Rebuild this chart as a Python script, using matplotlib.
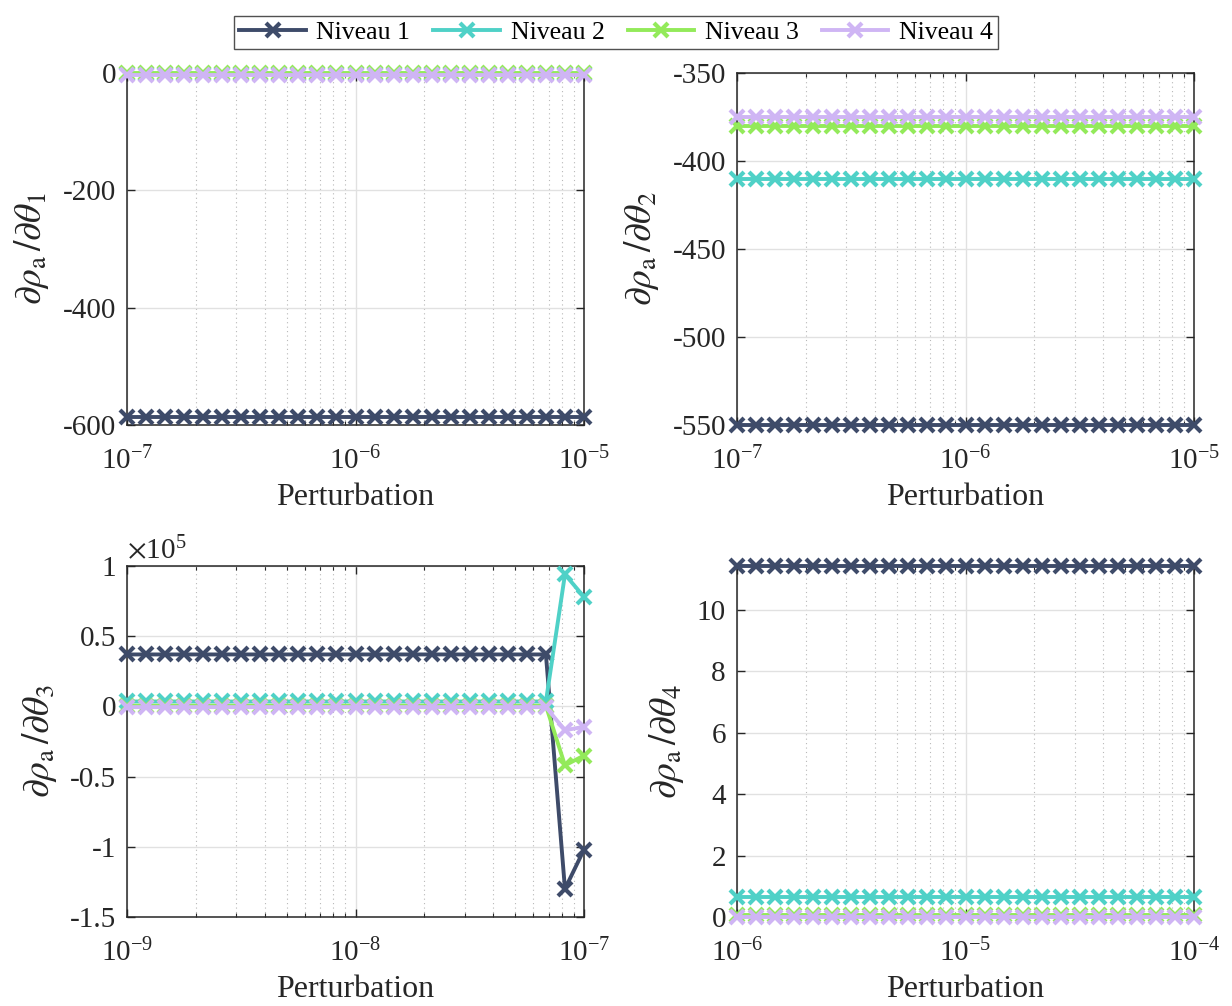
import numpy as np
import matplotlib
matplotlib.use("Agg")
import matplotlib.pyplot as plt
from matplotlib.ticker import FixedLocator, FuncFormatter, LogLocator, NullFormatter

plt.rcParams['font.family'] = ['Liberation Serif', 'DejaVu Serif']
plt.rcParams['mathtext.fontset'] = 'stix'
plt.rcParams['axes.unicode_minus'] = False

# series names and colours
levels = ["Niveau 1", "Niveau 2", "Niveau 3", "Niveau 4"]
colors = ["#3e4b69", "#4fd1c7", "#93ea5a", "#cfb5f4"]

N = 25
# perturbation grids (25 log-spaced steps per panel)
pert_1 = np.logspace(-7, -5, N)
pert_2 = np.logspace(-7, -5, N)
pert_3 = np.logspace(-9, -7, N)
pert_4 = np.logspace(-6, -4, N)

# d rho_a / d theta_1
d1_n1 = [-586] * N
d1_n2 = [-1] * N
d1_n3 = [0] * N
d1_n4 = [-3] * N

# d rho_a / d theta_2
d2_n1 = [-550] * N
d2_n2 = [-410] * N
d2_n3 = [-380] * N
d2_n4 = [-375] * N

# d rho_a / d theta_3 (unstable for the largest steps)
d3_n1 = [37000] * 23 + [-130000, -102000]
d3_n2 = [3500] * 23 + [94000, 78000]
d3_n3 = [500] * 23 + [-42000, -35000]
d3_n4 = [-500] * 23 + [-17000, -14500]

# d rho_a / d theta_4
d4_n1 = [11.43] * N
d4_n2 = [0.65] * N
d4_n3 = [0.06] * N
d4_n4 = [0.0] * N

FS = 21


def log_fmt(v, p):
    e = int(round(np.log10(v)))
    return r'$\mathregular{10^{%d}}$' % e


fig = plt.figure(figsize=(12.32, 10.06), dpi=100, facecolor='white')

pos = [
    [127 / 1232, 1 - 425 / 1006, 457 / 1232, 352 / 1006],
    [737 / 1232, 1 - 425 / 1006, 457 / 1232, 352 / 1006],
    [127 / 1232, 1 - 917 / 1006, 457 / 1232, 351 / 1006],
    [737 / 1232, 1 - 917 / 1006, 457 / 1232, 351 / 1006],
]

panels = [
    (pert_1, [d1_n1, d1_n2, d1_n3, d1_n4], (-600, 0), [-600, -400, -200, 0], r'$\partial\rho_\mathrm{a}\,/\partial\theta_1$'),
    (pert_2, [d2_n1, d2_n2, d2_n3, d2_n4], (-550, -350), [-550, -500, -450, -400, -350], r'$\partial\rho_\mathrm{a}\,/\partial\theta_2$'),
    (pert_3, [d3_n1, d3_n2, d3_n3, d3_n4], (-150000, 100000), [-150000, -100000, -50000, 0, 50000, 100000], r'$\partial\rho_\mathrm{a}\,/\partial\theta_3$'),
    (pert_4, [d4_n1, d4_n2, d4_n3, d4_n4], (0, 11.43), [0, 2, 4, 6, 8, 10], r'$\partial\rho_\mathrm{a}\,/\partial\theta_4$'),
]

handles = []
for i, (x, series, ylim, yticks, ylab) in enumerate(panels):
    ax = fig.add_axes(pos[i])
    for vals, name, col in zip(series, levels, colors):
        h, = ax.plot(x, vals, '-x', color=col, linewidth=2.8, markersize=10,
                     markeredgewidth=3.0, label=name, clip_on=False, zorder=3)
        if i == 0:
            handles.append(h)
    ax.set_xscale('log')
    ax.set_xlim(x[0], x[-1])
    ax.set_ylim(*ylim)
    ax.yaxis.set_major_locator(FixedLocator(yticks))
    if i == 2:
        ax.yaxis.set_major_formatter(FuncFormatter(lambda v, p: f'{v / 1e5:g}'))
        ax.text(0.0, 1.005, r'$\times\mathregular{10^5}$', transform=ax.transAxes,
                fontsize=FS, ha='left', va='bottom', color='#262626')
    else:
        ax.yaxis.set_major_formatter(FuncFormatter(lambda v, p: f'{v:g}'))
    ax.xaxis.set_major_locator(FixedLocator([x[0], x[12], x[-1]]))
    ax.xaxis.set_major_formatter(FuncFormatter(log_fmt))
    ax.xaxis.set_minor_locator(LogLocator(base=10, subs=np.arange(2, 10), numticks=20))
    ax.xaxis.set_minor_formatter(NullFormatter())

    ax.tick_params(axis='both', which='both', direction='in', top=True, right=True,
                   labelsize=FS, colors='#262626')
    ax.tick_params(axis='both', which='major', length=6, width=1)
    ax.tick_params(axis='y', which='major', pad=8)
    ax.tick_params(axis='x', which='major', pad=16)
    ax.tick_params(axis='x', which='minor', length=3, width=0.8)
    ax.grid(True, which='major', color='#e1e1e1', linewidth=1, linestyle='-')
    ax.grid(True, which='minor', axis='x', color='#b8b8b8', linewidth=0.8, linestyle=(0, (1, 3)))
    ax.set_axisbelow(True)
    for s in ax.spines.values():
        s.set_color('#262626')
        s.set_linewidth(1.1)

    ax.set_xlabel('Perturbation', fontsize=FS + 2, color='#262626', labelpad=5)
    ax.set_ylabel(ylab, fontsize=FS + 6, color='#262626', labelpad=8)

fig.legend(handles, levels, loc='upper center', bbox_to_anchor=(0.5, 0.997), ncol=4,
           fontsize=18.5, frameon=True, fancybox=False, edgecolor='#262626',
           handlelength=2.6, columnspacing=0.9, handletextpad=0.4, borderpad=0.2)

plt.savefig('out.png', dpi=100, facecolor='white')
